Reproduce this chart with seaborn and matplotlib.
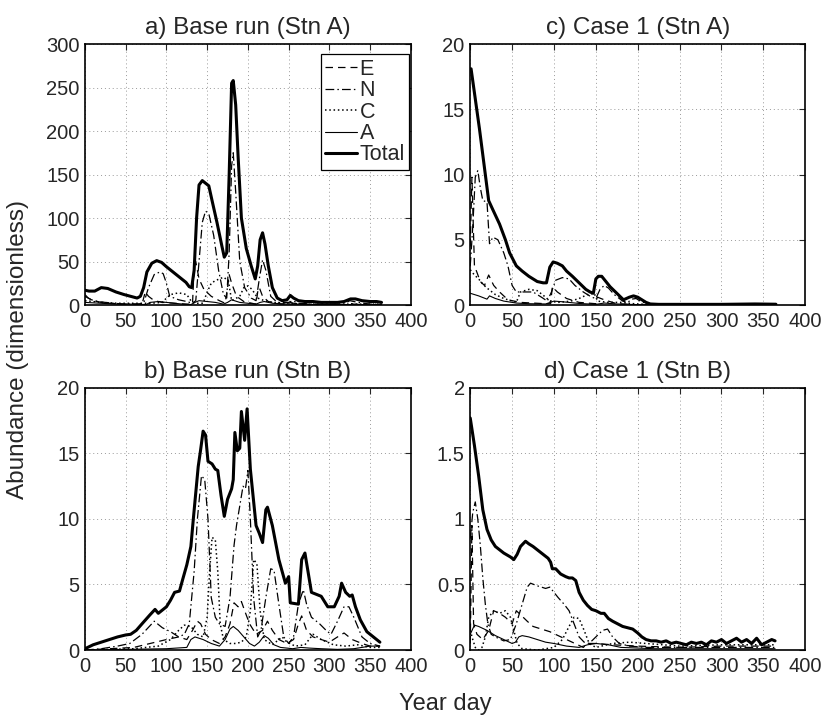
import matplotlib
matplotlib.use("Agg")
import matplotlib.pyplot as plt
import seaborn as sns
import pandas as pd
from matplotlib.ticker import FuncFormatter, MultipleLocator

# ---------------- data: (year day, abundance) ----------------
# Panel a) Base run (Stn A)
a_E = [(0,12),(4,8),(10,5),(20,3),(30,2),(45,1),(60,1),(70,1),(74,15),(78,10),(85,5),(95,3),(110,2),(125,1),
       (132,1),(134,45),(136,50),(140,30),(146,18),(155,10),(165,5),(172,2),(175,20),(177,35),(180,25),(186,10),
       (195,4),(205,2),(210,1),(212,15),(214,20),(218,10),(225,4),(240,1),(250,1),(252,3),(256,2),(270,1),
       (300,0.5),(320,0.5),(325,2),(330,1),(350,0.5),(364,0.5)]
a_N = [(0,10),(8,6),(16,4),(25,3),(35,2),(50,1),(65,1),(72,2),(78,20),(85,35),(92,38),(96,36),(100,25),(104,10),
       (115,6),(125,4),(132,2),(136,5),(140,50),(144,95),(148,108),(152,105),(158,80),(164,40),(170,12),(174,8),
       (177,60),(180,160),(182,175),(185,130),(190,50),(196,20),(204,8),(210,5),(214,30),(218,52),(222,40),
       (228,10),(236,3),(250,3),(255,5),(262,2),(280,1),(300,1),(318,1),(325,5),(335,3),(350,1),(364,1)]
a_C = [(0,5),(10,4),(20,3),(40,2),(60,2),(80,2),(95,3),(100,8),(105,12),(115,14),(125,12),(130,5),(135,2),
       (145,2),(150,15),(155,25),(160,28),(170,32),(176,28),(180,5),(190,10),(195,20),(200,22),(205,18),
       (212,8),(220,5),(230,3),(250,2),(270,1),(300,1),(330,1),(364,1)]
a_A = [(0,3),(20,2),(40,1),(60,1),(75,0.5),(80,3),(90,4),(100,3),(110,2),(120,1),(130,0.5),(135,3),(140,5),
       (150,4),(160,3),(170,1),(175,3),(180,6),(190,3),(200,2),(210,1),(215,3),(220,4),(230,2),(250,1),
       (280,0.5),(320,0.5),(364,0.5)]
a_Total = [(0,17),(5,16),(12,16),(20,20),(28,19),(38,15),(48,12),(56,10),(64,8),(68,10),(72,20),(76,38),
           (82,48),(88,51),(94,49),(100,44),(108,38),(116,32),(124,26),(128,21),(131,20),(134,40),(137,100),
           (140,138),(144,143),(148,140),(152,137),(156,120),(162,95),(168,68),(171,55),(174,60),(177,150),
           (180,255),(182,258),(185,230),(188,170),(192,100),(198,65),(204,45),(209,30),(212,45),(215,75),
           (218,83),(221,70),(225,45),(230,20),(236,8),(242,5),(248,6),(252,11),(256,8),(262,5),(270,4),
           (280,4),(290,3),(300,3),(310,3),(318,4),(326,7),(332,7),(340,5),(350,4),(358,4),(364,3)]

# Panel b) Base run (Stn B)
b_E = [(0,0),(30,0.1),(60,0.2),(80,0.5),(100,0.8),(115,1.0),(125,0.8),(132,1.5),(138,2.2),(142,2.0),(148,1.2),
       (155,0.8),(165,0.5),(172,1.0),(178,2.0),(183,3.6),(188,3.3),(192,3.7),(196,3.0),(202,2.0),(210,1.2),
       (218,1.5),(224,2.2),(230,1.5),(238,0.8),(248,0.5),(256,0.8),(262,2.0),(266,2.6),(272,1.5),(280,1.0),
       (290,0.8),(300,0.6),(310,1.0),(318,1.3),(328,0.8),(340,0.5),(350,0.3),(362,0.3)]
b_N = [(0,0),(20,0.1),(40,0.3),(55,0.5),(70,1.2),(85,2.2),(95,1.7),(105,1.4),(115,1.0),(122,1.2),(128,2.0),
       (134,6),(138,10),(143,13.3),(147,13.0),(151,10),(155,4),(160,2.5),(165,2.0),(172,1.8),(178,4),(183,8),
       (186,9.5),(190,11),(194,12.5),(197,12.3),(200,13.7),(203,10),(207,4),(212,1.0),(216,1.5),(222,4),
       (228,6.2),(232,6.1),(238,3.5),(244,1.0),(250,0.5),(256,1.0),(262,3.5),(268,4.6),(272,3.5),(278,2.5),
       (288,2.0),(296,1.5),(302,1.2),(310,2.2),(318,3.3),(324,3.3),(330,2.5),(340,1.0),(350,0.5),(362,0.3)]
b_C = [(0,0),(30,0.05),(60,0.1),(90,0.3),(105,0.8),(115,1.5),(122,1.9),(130,1.8),(138,1.2),(145,1.0),(150,2.5),
       (153,6),(156,8.6),(160,8.4),(163,6),(166,2),(170,0.8),(178,0.5),(185,0.5),(192,0.6),(198,1.0),(203,3),
       (207,6.9),(211,6.6),(215,3),(220,0.8),(230,0.4),(242,1.0),(248,0.6),(258,0.3),(270,0.4),(280,1.2),
       (290,0.8),(305,0.4),(320,0.3),(335,0.4),(350,0.2),(362,0.2)]
b_A = [(0,0),(50,0.05),(100,0.1),(125,0.2),(130,0.8),(135,1.0),(145,0.8),(155,0.5),(165,0.3),(172,0.8),
       (178,1.6),(182,1.8),(188,1.5),(195,1.0),(202,0.5),(208,0.3),(214,0.6),(220,1.1),(225,0.9),(232,0.4),
       (240,0.2),(255,0.1),(265,0.2),(275,0.15),(290,0.1),(310,0.05),(330,0.1),(350,0.3),(362,0.3)]
b_Total = [(0,0.1),(10,0.4),(20,0.6),(30,0.8),(40,1.0),(50,1.15),(56,1.2),(63,1.5),(70,2.0),(80,2.7),(86,3.1),
           (90,2.8),(100,3.3),(105,3.8),(110,4.4),(116,4.5),(120,5.4),(125,6.5),(130,7.9),(133,10),(136,12.0),
           (139,14),(142,15.3),(145,16.7),(148,16.4),(151,14.4),(156,14.2),(160,13.8),(163,13.7),(167,11.8),
           (171,10.2),(175,11.5),(180,12.3),(182,13),(184,16.6),(187,15.2),(190,15.4),(192,18.2),(196,16.0),
           (199,18.4),(203,13.8),(210,9.5),(214,8.9),(218,8.2),(222,10.7),(224,10.9),(230,9.5),(238,6.9),
           (246,5.1),(250,5.6),(252,3.6),(262,3.5),(266,6.9),(270,7.4),(274,5.9),(278,4.4),(290,4.1),(298,3.3),
           (306,3.3),(312,4.1),(315,5.1),(320,4.4),(325,4.1),(328,4.2),(332,3.3),(338,2.3),(346,1.4),(354,1.0),
           (362,0.6)]

# Panel c) Case 1 (Stn A)
c_E = [(0,4.5),(2,9.8),(5,3.0),(8,2.5),(12,1.8),(17,1.5),(22,2.3),(28,1.5),(35,1.0),(45,0.4),(60,0.2),(90,0.1),
       (96,0.1),(98,1.4),(104,1.0),(115,0.5),(130,0.2),(150,0.1),(152,0.6),(160,0.4),(175,0.1),(200,0.02),(365,0.0)]
c_N = [(0,3),(3,6),(6,9.8),(9,10.3),(12,9),(15,8),(20,7.9),(23,4.7),(27,5.2),(33,5.0),(40,4.0),(45,3.0),
       (50,1.5),(55,1.0),(65,1.0),(75,1.0),(85,0.6),(92,0.3),(97,1.0),(102,1.9),(110,2.1),(118,2.0),(125,1.5),
       (135,1.0),(145,0.6),(150,0.5),(155,1.2),(160,1.5),(165,1.3),(172,0.8),(182,0.3),(188,0.2),(193,0.45),
       (198,0.5),(203,0.3),(212,0.05),(240,0.02),(365,0.01)]
c_C = [(0,2.7),(5,2.3),(10,2.0),(15,1.6),(20,1.3),(30,0.8),(40,0.5),(50,0.3),(55,0.2),(60,1.0),(70,1.2),
       (80,1.1),(90,0.6),(95,0.3),(105,0.2),(120,0.3),(130,0.5),(140,0.8),(148,0.9),(152,0.3),(165,0.2),
       (180,0.2),(195,0.1),(210,0.05),(365,0.02)]
c_A = [(0,0.9),(10,0.7),(20,0.45),(23,0.7),(30,0.5),(40,0.3),(55,0.15),(70,0.1),(90,0.08),(100,0.3),
       (110,0.25),(130,0.12),(150,0.05),(160,0.15),(175,0.08),(200,0.03),(365,0.01)]
c_Total = [(1,18.1),(6,15.8),(11,13.5),(16,11.0),(22,8.0),(27,7.3),(35,6.2),(42,5.0),(47,4.0),(55,3.0),
           (62,2.6),(70,2.2),(80,1.8),(87,1.7),(91,1.7),(95,2.9),(99,3.3),(104,3.2),(110,3.0),(115,2.6),
           (122,2.2),(130,1.7),(138,1.2),(143,1.0),(147,0.9),(150,2.0),(153,2.2),(157,2.2),(162,1.8),(167,1.4),
           (175,0.9),(183,0.4),(190,0.6),(195,0.7),(200,0.6),(205,0.4),(210,0.2),(215,0.08),(225,0.05),
           (250,0.05),(300,0.05),(340,0.08),(365,0.06)]

# Panel d) Case 1 (Stn B)
d_E = [(0,0.05),(2,0.95),(4,0.2),(8,0.12),(15,0.08),(22,0.15),(28,0.3),(35,0.28),(42,0.25),(50,0.2),(55,0.3),
       (60,0.27),(68,0.22),(75,0.18),(85,0.16),(95,0.14),(105,0.11),(115,0.08),(125,0.05),(135,0.02),(140,0.05),
       (150,0.05),(170,0.04),(200,0.03),(250,0.02),(300,0.03),(364,0.03)]
d_N = [(0,0.85),(3,1.05),(6,1.13),(9,1.0),(12,0.8),(15,0.55),(18,0.35),(21,0.2),(25,0.12),(30,0.1),(40,0.07),
       (48,0.08),(55,0.2),(62,0.35),(68,0.48),(72,0.51),(80,0.49),(90,0.47),(95,0.48),(100,0.44),(105,0.40),
       (112,0.35),(118,0.3),(124,0.2),(130,0.1),(136,0.06),(142,0.05),(150,0.1),(158,0.15),(164,0.16),
       (170,0.1),(178,0.05),(190,0.03),(210,0.02),(260,0.02),(320,0.02),(364,0.02)]
d_C = [(0,0.15),(3,0.08),(6,0.02),(10,0.0),(14,0.02),(18,0.1),(22,0.25),(28,0.3),(35,0.28),(42,0.3),(48,0.25),
       (52,0.15),(56,0.05),(62,0.01),(80,0.0),(100,0.02),(110,0.08),(118,0.18),(124,0.25),(130,0.24),(136,0.15),
       (142,0.05),(150,0.02),(170,0.05),(190,0.06),(210,0.05),(250,0.03),(300,0.04),(364,0.04)]
d_A = [(0,0.12),(5,0.19),(10,0.18),(20,0.15),(30,0.11),(40,0.08),(50,0.05),(54,0.06),(58,0.1),(62,0.11),
       (70,0.1),(80,0.08),(90,0.06),(100,0.05),(115,0.03),(130,0.02),(140,0.04),(150,0.05),(165,0.04),
       (180,0.02),(220,0.01),(300,0.01),(364,0.01)]
d_Total = [(0,1.77),(5,1.56),(10,1.33),(15,1.07),(20,0.92),(25,0.84),(30,0.79),(40,0.74),(48,0.71),(52,0.69),
           (56,0.73),(60,0.79),(66,0.83),(70,0.81),(75,0.79),(85,0.74),(93,0.70),(96,0.67),(98,0.62),(102,0.62),
           (108,0.58),(114,0.56),(118,0.55),(122,0.55),(126,0.53),(130,0.44),(135,0.38),(140,0.34),(145,0.31),
           (150,0.30),(156,0.28),(160,0.28),(165,0.24),(170,0.22),(176,0.20),(182,0.18),(188,0.17),(194,0.16),
           (200,0.13),(205,0.10),(210,0.08),(216,0.07),(222,0.07),(228,0.06),(234,0.07),(240,0.05),(246,0.06),
           (252,0.05),(258,0.04),(264,0.06),(270,0.05),(276,0.06),(282,0.04),(288,0.07),(294,0.06),(300,0.08),
           (306,0.05),(312,0.07),(318,0.09),(324,0.06),(330,0.08),(336,0.05),(342,0.09),(348,0.04),(354,0.06),
           (360,0.08),(364,0.07)]

series_names = ["E", "N", "C", "A", "Total"]
panel_titles = ["a) Base run (Stn A)", "c) Case 1 (Stn A)", "b) Base run (Stn B)", "d) Case 1 (Stn B)"]
panel_data = [
    [a_E, a_N, a_C, a_A, a_Total],
    [c_E, c_N, c_C, c_A, c_Total],
    [b_E, b_N, b_C, b_A, b_Total],
    [d_E, d_N, d_C, d_A, d_Total],
]
y_max = [300, 20, 20, 2]
y_step = [50, 5, 5, 0.5]
x_ticks = [0, 50, 100, 150, 200, 250, 300, 350, 400]

# ---------------- style ----------------
sns.set_style("white")
plt.rcParams["font.family"] = ["Liberation Sans", "DejaVu Sans"]
plt.rcParams["xtick.direction"] = "in"
plt.rcParams["ytick.direction"] = "in"

styles = {
    "E": dict(linestyle=(0, (6, 4)), linewidth=0.9),
    "N": dict(linestyle=(0, (7, 2.5, 1.2, 2.5)), linewidth=0.9),
    "C": dict(linestyle=(0, (1, 1.8)), linewidth=1.1),
    "A": dict(linestyle="-", linewidth=0.8),
    "Total": dict(linestyle="-", linewidth=2.2),
}

fig = plt.figure(figsize=(8.25, 7.17), dpi=100)
positions = [
    [0.103, 0.5746, 0.395, 0.364],
    [0.570, 0.5746, 0.406, 0.364],
    [0.103, 0.0934, 0.395, 0.3656],
    [0.570, 0.0934, 0.406, 0.3656],
]

fmt = FuncFormatter(lambda v, p: "%g" % v)

for i, pos in enumerate(positions):
    ax = fig.add_axes(pos)
    for name, data in zip(series_names, panel_data[i]):
        df = pd.DataFrame(data, columns=["day", "value"])
        sns.lineplot(data=df, x="day", y="value", ax=ax, color="black",
                     label=name if i == 0 else None, legend=False,
                     estimator=None, sort=False, **styles[name])
    ax.set_xlim(0, 400)
    ax.set_ylim(0, y_max[i])
    ax.set_xticks(x_ticks)
    ax.yaxis.set_major_locator(MultipleLocator(y_step[i]))
    ax.yaxis.set_major_formatter(fmt)
    ax.set_xlabel("")
    ax.set_ylabel("")
    ax.set_title(panel_titles[i], fontsize=17.5, pad=7)
    ax.tick_params(axis="both", labelsize=14.5, length=4, width=0.8,
                   top=True, right=True)
    ax.tick_params(axis="x", pad=5)
    ax.tick_params(axis="y", pad=4)
    ax.grid(True, linestyle=(0, (1, 3)), color="#999999", linewidth=0.7)
    for s in ax.spines.values():
        s.set_color("black")
        s.set_linewidth(1.2)
    if i == 0:
        leg = ax.legend(loc="upper right", bbox_to_anchor=(0.995, 0.96),
                        fontsize=15.5, handlelength=1.5,
                        handletextpad=0.1, labelspacing=0.02, borderpad=0.2,
                        borderaxespad=0.0, fancybox=False, framealpha=1)
        leg.get_frame().set_edgecolor("black")
        leg.get_frame().set_linewidth(0.9)

fig.text(0.022, 0.512, "Abundance (dimensionless)", rotation=90, ha="center",
         va="center", fontsize=17.5)
fig.text(0.54, 0.018, "Year day", ha="center", va="center", fontsize=17)

fig.savefig("out.png", dpi=100)
